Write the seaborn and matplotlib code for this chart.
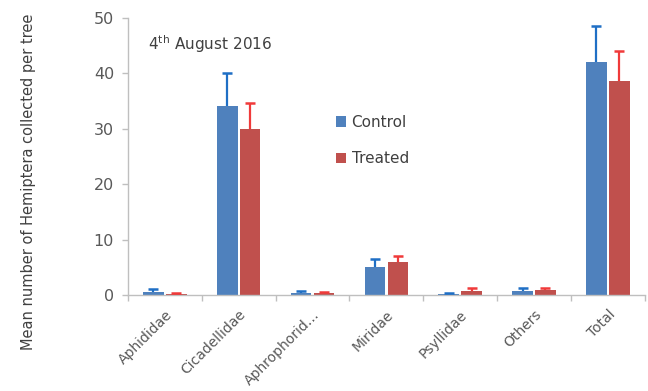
import numpy as np
import pandas as pd
import matplotlib
matplotlib.use("Agg")
import matplotlib.pyplot as plt
import seaborn as sns

# Hemiptera families sampled per tree
families = ["Aphididae", "Cicadellidae", "Aphrophorid\u2026", "Miridae",
            "Psyllidae", "Others", "Total"]
groups = ["Control", "Treated"]

control_mean = [0.6, 34.2, 0.4, 5.1, 0.2, 0.8, 42.1]
control_se = [0.4, 5.9, 0.3, 1.4, 0.2, 0.4, 6.5]
treated_mean = [0.2, 29.9, 0.3, 5.9, 0.8, 0.9, 38.6]
treated_se = [0.2, 4.8, 0.2, 1.2, 0.4, 0.3, 5.4]

y_ticks = [0, 10, 20, 30, 40, 50]

bar_colors = {"Control": "#4F81BD", "Treated": "#C0504D"}
err_colors = {"Control": "#1F6FC5", "Treated": "#F03A3A"}

df = pd.DataFrame({
    "family": families * 2,
    "group": ["Control"] * len(families) + ["Treated"] * len(families),
    "mean": control_mean + treated_mean,
    "se": control_se + treated_se,
})

sns.set_style("white")
plt.rcParams["font.family"] = ["DejaVu Sans"]

fig = plt.figure(figsize=(6.48, 3.91), dpi=100)
ax = fig.add_axes([0.1975, 0.2455, 0.7975, 0.7085])

sns.barplot(data=df, x="family", y="mean", hue="group", order=families,
            hue_order=groups, palette=bar_colors, saturation=1, width=0.62,
            gap=0.1, errorbar=None, linewidth=0, ax=ax, legend=True)

# one-sided standard-error bars: stem up from the bar top, cap at the end
for container, grp in zip(ax.containers, groups):
    sub = df[df["group"] == grp].set_index("family").loc[families]
    xs = np.array([p.get_x() + p.get_width() / 2 for p in container.patches])
    hs = np.array([p.get_height() for p in container.patches])
    tops = hs + sub["se"].values
    ax.vlines(xs, hs, tops, colors=err_colors[grp], linewidth=1.6, zorder=3)
    ax.plot(xs, tops, linestyle="none", marker="_", markersize=7,
            markeredgewidth=1.8, color=err_colors[grp], zorder=3,
            clip_on=False)

ax.set_ylim(0, 50)
ax.set_xlim(-0.5, len(families) - 0.5)
ax.set_yticks(y_ticks)
ax.set_xticks(range(len(families)))
ax.set_xticklabels(families, rotation=45, ha="right", rotation_mode="anchor")
ax.set_xticks(np.arange(-0.5, len(families)), minor=True)
ax.tick_params(axis="x", which="major", length=0, pad=9, labelsize=10,
               labelcolor="#595959")
ax.tick_params(axis="x", which="minor", length=4, color="#BFBFBF", width=1,
               direction="out", bottom=True)
ax.tick_params(axis="y", length=4, color="#BFBFBF", width=1, direction="out",
               left=True, labelsize=11.5, labelcolor="#595959", pad=6)

for side in ["top", "right"]:
    ax.spines[side].set_visible(False)
for side in ["left", "bottom"]:
    ax.spines[side].set_color("#BFBFBF")
    ax.spines[side].set_linewidth(1)

ax.set_xlabel("")
ax.set_ylabel("Mean number of Hemiptera collected per tree", fontsize=10.5,
              color="#404040")
ax.yaxis.set_label_coords(-0.178, 0.41)

ax.text(0.038, 0.905, r"4$^{\mathrm{th}}$ August 2016", transform=ax.transAxes,
        fontsize=11, color="#404040", ha="left", va="center")

leg = ax.legend(loc="upper left", bbox_to_anchor=(0.375, 0.7), frameon=False,
                fontsize=11, handlelength=0.7, handleheight=0.7,
                handletextpad=0.35, labelspacing=1.4)
for t in leg.get_texts():
    t.set_color("#404040")

fig.savefig("out.png", dpi=100)
